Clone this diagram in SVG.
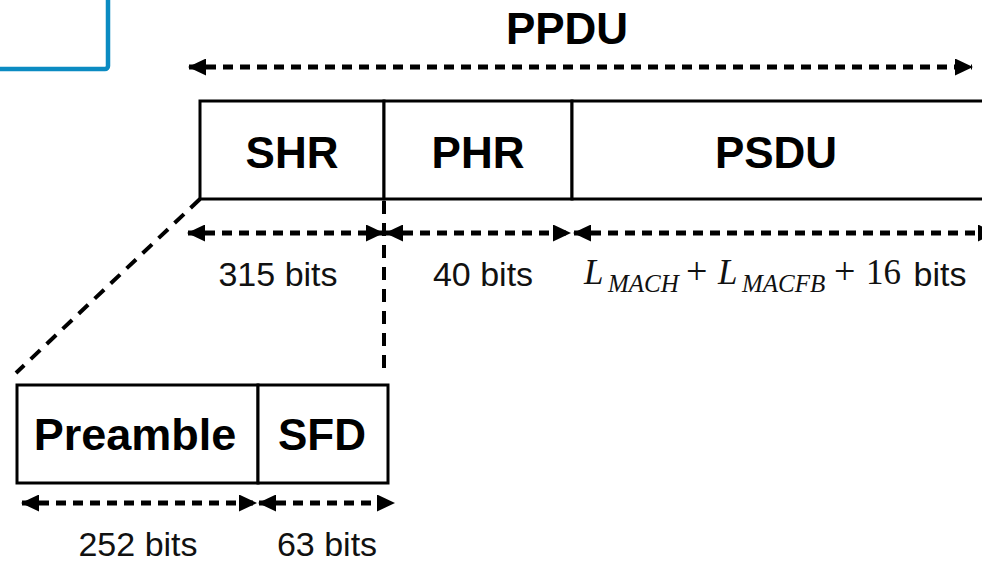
<svg xmlns="http://www.w3.org/2000/svg" width="982" height="563" viewBox="0 0 982 563">
<defs>
<marker id="ah" markerUnits="userSpaceOnUse" markerWidth="18" markerHeight="17" refX="17" refY="8.5" orient="auto-start-reverse">
<path d="M0,0 L18,8.5 L0,17 Z" fill="#000"/>
</marker>
<style>
.box{fill:#fff;stroke:#000;stroke-width:3}
.dim{stroke:#000;stroke-width:5;stroke-dasharray:10 7;fill:none;marker-start:url(#ah);marker-end:url(#ah)}
.lead{stroke:#000;stroke-width:4;stroke-dasharray:13 9;fill:none}
.big{font-family:"Liberation Sans",Arial,sans-serif;font-weight:bold;font-size:44px;fill:#000;text-anchor:middle}
.lbl{font-family:"Liberation Sans",Arial,sans-serif;font-size:34px;fill:#111;text-anchor:middle}
.math{font-family:"Liberation Serif","Times New Roman",serif;fill:#111}
</style>
</defs>
<rect x="-10" y="-10" width="118" height="79" rx="3" fill="none" stroke="#0b8bc2" stroke-width="4.5"/>
<g id="ppdu">
<text class="big" x="567" y="44">PPDU</text>
</g>
<g id="shr">
<rect class="box" x="200" y="101" width="184" height="98"/>
<text class="big" x="292" y="168">SHR</text>
</g>
<g id="phr">
<rect class="box" x="384" y="101" width="188" height="98"/>
<text class="big" x="478" y="168">PHR</text>
</g>
<g id="psdu">
<rect class="box" x="572" y="101" width="420" height="98"/>
<text class="big" x="776" y="168">PSDU</text>
</g>
<g id="preamble">
<rect class="box" x="17" y="385" width="241" height="98"/>
<text class="big" x="135" y="450" style="font-size:45px">Preamble</text>
</g>
<g id="sfd">
<rect class="box" x="258" y="385" width="130" height="98"/>
<text class="big" x="322" y="450">SFD</text>
</g>
<g id="connectors">
<line class="dim" x1="189" y1="67" x2="972" y2="67"/>
<line class="dim" x1="188" y1="233" x2="383" y2="233"/>
<line class="dim" x1="386" y1="233" x2="570" y2="233"/>
<line class="dim" x1="574" y1="233" x2="995" y2="233"/>
<line class="dim" x1="22" y1="503" x2="256" y2="503"/>
<line class="dim" x1="259" y1="503" x2="394" y2="503"/>
<line class="lead" x1="200" y1="199" x2="16" y2="373"/>
<line class="lead" x1="384" y1="201" x2="384" y2="373"/>
</g>
<g id="labels">
<text class="lbl" x="278" y="286">315 bits</text>
<text class="lbl" x="483" y="286">40 bits</text>
<text class="lbl" x="138" y="556">252 bits</text>
<text class="lbl" x="327" y="556">63 bits</text>
<text class="math" y="284"><tspan x="584" font-style="italic" font-size="35">L</tspan><tspan x="608" y="292" font-style="italic" font-size="25">MACH</tspan><tspan x="686" y="284" font-size="38">+</tspan><tspan x="718" font-style="italic" font-size="35">L</tspan><tspan x="742" y="292" font-style="italic" font-size="25">MACFB</tspan><tspan x="834" y="284" font-size="38">+</tspan><tspan x="866" font-size="35">16</tspan></text>
<text class="lbl" x="940" y="286">bits</text>
</g>
</svg>
